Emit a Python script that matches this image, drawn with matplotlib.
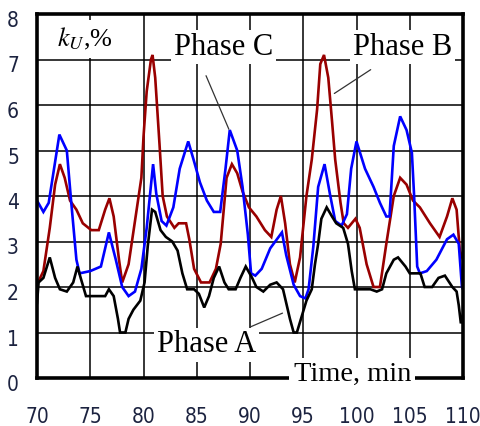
import matplotlib
matplotlib.use("Agg")
import matplotlib.pyplot as plt
from matplotlib.transforms import ScaledTranslation

# ---- data (time in min, k_U in %) ----
phase_a = [(70, 1.65), (70.15, 2.1), (70.6, 2.2), (71.2, 2.65), (71.7, 2.2), (72.15, 1.95),
           (72.8, 1.9), (73.4, 2.1), (73.8, 2.45), (74.1, 2.2), (74.6, 1.8), (75.5, 1.8),
           (76.4, 1.8), (76.75, 1.95), (77.2, 1.8), (77.6, 1.3), (77.8, 1.0), (78.3, 1.0),
           (78.6, 1.3), (79.05, 1.5), (79.7, 1.7), (80.1, 2.1), (80.4, 2.9), (80.8, 3.7),
           (81.1, 3.65), (81.6, 3.25), (82.1, 3.1), (82.7, 3.0), (83.2, 2.8), (83.65, 2.3),
           (84.1, 1.95), (84.75, 1.95), (85.2, 1.85), (85.7, 1.55), (86.15, 1.8), (86.6, 2.2),
           (87.1, 2.45), (87.6, 2.1), (88.0, 1.95), (88.65, 1.95), (89.1, 2.2), (89.6, 2.45),
           (90.2, 2.2), (90.6, 2.0), (91.25, 1.9), (91.9, 2.05), (92.5, 2.1), (93.1, 1.95),
           (93.4, 1.65), (93.75, 1.3), (94.1, 1.0), (94.4, 1.0), (94.85, 1.35), (95.3, 1.7),
           (95.8, 1.95), (96.1, 2.5), (96.4, 2.95), (96.7, 3.5), (97.2, 3.75), (97.7, 3.55),
           (98.1, 3.4), (98.75, 3.3), (99.2, 2.95), (99.55, 2.35), (99.85, 1.95), (100.6, 1.95),
           (101.3, 1.95), (101.9, 1.9), (102.4, 1.95), (102.8, 2.3), (103.5, 2.6), (103.9, 2.65),
           (104.6, 2.45), (105.0, 2.3), (106.0, 2.3), (106.4, 2.0), (107.1, 2.0), (107.7, 2.2),
           (108.3, 2.25), (109.0, 2.0), (109.4, 1.9), (109.6, 1.6), (109.8, 1.2), (110, 1.4)]

phase_b = [(70, 2.05), (70.6, 2.35), (71.2, 3.3), (71.7, 4.25), (72.15, 4.7), (72.6, 4.4),
           (73.1, 3.9), (73.7, 3.7), (74.3, 3.4), (75.1, 3.25), (75.8, 3.25), (76.4, 3.7),
           (76.8, 3.95), (77.2, 3.55), (77.7, 2.6), (78.0, 2.1), (78.6, 2.5), (79.2, 3.45),
           (79.8, 4.4), (80.0, 5.3), (80.3, 6.3), (80.7, 7.0), (80.85, 7.1), (81.1, 6.6),
           (81.5, 5.15), (81.8, 4.0), (82.2, 3.55), (82.9, 3.3), (83.3, 3.4), (84.0, 3.4),
           (84.3, 3.05), (84.75, 2.4), (85.4, 2.1), (86.2, 2.1), (86.8, 2.4), (87.25, 2.95),
           (87.8, 4.4), (88.3, 4.7), (88.8, 4.5), (89.3, 4.1), (89.9, 3.75), (90.6, 3.55),
           (91.4, 3.25), (92.0, 3.1), (92.5, 3.7), (92.9, 4.0), (93.3, 3.4), (93.75, 2.5),
           (94.2, 2.1), (94.7, 2.65), (95.3, 4.0), (95.8, 4.8), (96.3, 5.9), (96.6, 6.9),
           (96.95, 7.1), (97.35, 6.6), (97.7, 5.65), (98.0, 4.8), (98.5, 3.85), (98.8, 3.4),
           (99.2, 3.3), (99.9, 3.5), (100.3, 3.3), (100.95, 2.5), (101.6, 2.0), (102.2, 2.0),
           (102.8, 2.95), (103.5, 4.0), (104.1, 4.4), (104.7, 4.25), (105.3, 3.9), (105.95, 3.75),
           (106.9, 3.4), (107.8, 3.1), (108.5, 3.55), (109.0, 3.95), (109.4, 3.7), (109.7, 2.8),
           (110, 2.6)]

phase_c = [(70, 3.9), (70.6, 3.65), (71.1, 3.85), (72.1, 5.35), (72.8, 5.0), (73.2, 3.9),
           (73.7, 2.6), (74.0, 2.3), (75.0, 2.35), (76.0, 2.45), (76.75, 3.2), (77.4, 2.6),
           (78.0, 2.0), (78.6, 1.8), (79.2, 1.9), (79.8, 2.4), (80.3, 3.3), (80.9, 4.7),
           (81.2, 4.05), (81.7, 3.45), (82.15, 3.35), (82.8, 3.75), (83.4, 4.6), (84.2, 5.2),
           (84.7, 4.8), (85.3, 4.3), (85.95, 3.9), (86.6, 3.65), (87.2, 3.65), (87.7, 4.6),
           (88.1, 5.45), (88.8, 5.0), (89.3, 4.2), (89.8, 3.15), (90.1, 2.3), (90.5, 2.25),
           (91.1, 2.4), (91.9, 2.85), (93.0, 3.2), (93.4, 2.7), (94.1, 2.05), (94.7, 1.8),
           (95.2, 1.75), (95.5, 1.95), (95.95, 2.9), (96.4, 4.2), (97.0, 4.7), (97.5, 4.05),
           (98.0, 3.45), (98.6, 3.35), (99.1, 3.6), (99.5, 4.6), (100.0, 5.2), (100.8, 4.6),
           (101.6, 4.2), (102.2, 3.85), (102.8, 3.55), (103.1, 3.55), (103.5, 5.1), (104.1, 5.75),
           (104.7, 5.45), (105.2, 4.95), (105.4, 4.05), (105.7, 2.45), (105.95, 2.3), (106.6, 2.35),
           (107.5, 2.6), (108.5, 3.05), (109.1, 3.15), (109.6, 2.95), (109.9, 2.0), (110, 1.95)]

x_ticks = [70, 75, 80, 85, 90, 95, 100, 105, 110]
y_ticks = [0, 1, 2, 3, 4, 5, 6, 7, 8]

fig = plt.figure(figsize=(4.81, 4.26), dpi=100)
ax = fig.add_axes([37 / 481, 48 / 426, 426 / 481, 364 / 426])

for data, col in [(phase_b, '#990000'), (phase_c, '#0000ff'), (phase_a, '#000000')]:
    t = [p[0] for p in data]
    v = [p[1] for p in data]
    ax.plot(t, v, color=col, lw=1.9, zorder=2, solid_joinstyle='miter')

ax.set_xlim(70, 110)
ax.set_ylim(0, 8)
ax.set_xticks(x_ticks)
ax.set_yticks(y_ticks)
ax.grid(True, color='black', lw=1.1, zorder=1)
ax.set_axisbelow(True)
for s in ax.spines.values():
    s.set_linewidth(2.6)
ax.tick_params(length=0, labelsize=15, labelcolor='#1c2340')
ax.tick_params(axis='x', pad=21)
ax.tick_params(axis='y', pad=13)
tickfont = ['Liberation Sans Narrow', 'DejaVu Sans']
for lab in ax.get_xticklabels() + ax.get_yticklabels():
    lab.set_family(tickfont)
    lab.set_stretch('condensed')
for lab in ax.get_yticklabels():
    lab.set_transform(lab.get_transform() + ScaledTranslation(0, -5 / 100, fig.dpi_scale_trans))

plt.rcParams['mathtext.fontset'] = 'stix'
serif = ['Liberation Serif', 'DejaVu Serif']
box = dict(facecolor='white', edgecolor='none', pad=2)

ax.text(74.5, 7.45, r'$k_{U}$,%', fontsize=19, family=serif, ha='center', va='center',
        bbox=dict(facecolor='white', edgecolor='none', pad=4), zorder=4)
ax.text(87.5, 7.27, 'Phase C', fontsize=22, family=serif, ha='center', va='center',
        bbox=box, zorder=4)
ax.text(104.3, 7.27, 'Phase B', fontsize=22, family=serif, ha='center', va='center',
        bbox=box, zorder=4)
ax.text(85.9, 0.73, 'Phase A', fontsize=22, family=serif, ha='center', va='center',
        bbox=box, zorder=4)
ax.text(99.6, 0.08, 'Time, min', fontsize=20.5, family=serif, ha='center', va='center',
        bbox=dict(facecolor='white', edgecolor='none', pad=3), zorder=4)

leader = dict(arrowstyle='-', color='#333333', lw=0.9)
ax.annotate('', xy=(88.12, 5.41), xytext=(85.77, 6.70), arrowprops=leader, zorder=5)
ax.annotate('', xy=(97.70, 6.22), xytext=(101.55, 6.81), arrowprops=leader, zorder=5)
ax.annotate('', xy=(93.29, 1.45), xytext=(89.81, 1.10), arrowprops=leader, zorder=5)

fig.savefig('out.png', dpi=100)
